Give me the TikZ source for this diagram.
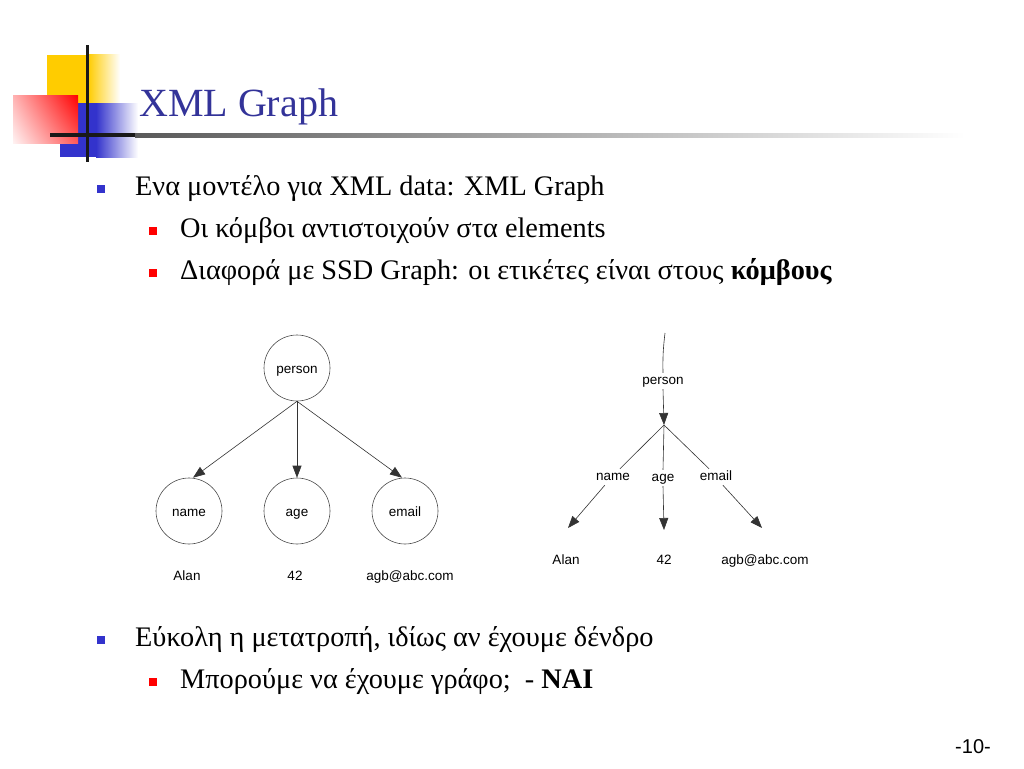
\documentclass[tikz,border=0pt]{standalone}
\usepackage{fontspec}
\setmainfont{Liberation Serif}
\newfontfamily\arialfont{Liberation Sans}
\usetikzlibrary{arrows.meta,calc,shadings}
\definecolor{titleblue}{HTML}{333399}
\definecolor{bulblue}{HTML}{3333CC}
\definecolor{bulred}{HTML}{FF0000}
\definecolor{logoyellow}{HTML}{FFCC00}
\definecolor{logoblue}{HTML}{3333CC}
\definecolor{edgegray}{HTML}{333333}
\tikzset{
  lvlone/.style={anchor=base west, inner sep=0pt, font=\fontsize{28.3}{31}\selectfont},
  lvltwo/.style={anchor=base west, inner sep=0pt, font=\fontsize{28.3}{31}\selectfont},
  bulone/.style={fill=bulblue, minimum size=8pt, inner sep=0pt, draw=none},
  bultwo/.style={fill=bulred, minimum size=8pt, inner sep=0pt, draw=none},
  gcirc/.style={circle, draw=black!70, line width=0.6pt, minimum size=66pt, inner sep=0pt, text height=11pt, text depth=0pt, font=\arialfont\fontsize{13.5}{15}\selectfont},
  glabel/.style={inner sep=2pt, text height=9.5pt, text depth=2.5pt, font=\arialfont\fontsize{13.5}{15}\selectfont},
  garrow/.style={draw=edgegray, line width=0.6pt, -{Triangle[length=12pt,width=9pt]}},
  gline/.style={draw=edgegray, line width=0.6pt},
}
\begin{document}
\begin{tikzpicture}[x=1pt,y=-1pt]
\useasboundingbox (0,0) rectangle (1024,768);
\fill[white] (0,0) rectangle (1024,768);
% logo
\fill[logoyellow] (47,55) rectangle (88,103);
\shade[left color=logoyellow, right color=white] (88,55) rectangle (120,103);
\fill[logoblue] (60,103) rectangle (96,157);
\shade[left color=logoblue, right color=white] (96,103) rectangle (138,157);
\shade[lower left=red!5, upper left=red!30, lower right=red!65, upper right=red] (13,95) rectangle (78,143);
% rule
\fill[black!90] (50,133) rectangle (135,137);
\shade[left color=black!65, right color=white] (135,133) rectangle (965,137);
\fill[black!90] (85.5,45) rectangle (88.5,162);
% title
\node[anchor=base west, inner sep=0pt, text=titleblue, font=\fontsize{40}{44}\selectfont] (title) at (139,116.5) {XML Graph};
% bullets
\node[bulone] (b1) at (101,189) {};
\node[lvlone] (t1) at (135,195) {Ενα μοντέλο για XML data: XML Graph};
\node[bultwo] (b2) at (153,231) {};
\node[lvltwo] (t2) at (180,237) {Οι κόμβοι αντιστοιχούν στα elements};
\node[bultwo] (b3) at (153,273) {};
\node[lvltwo] (t3) at (180,279) {Διαφορά με SSD Graph: οι ετικέτες είναι στους \textbf{κόμβους}};
\node[bulone] (b4) at (101,640) {};
\node[lvlone] (t4) at (135,646) {Εύκολη η μετατροπή, ιδίως αν έχουμε δένδρο};
\node[bultwo] (b5) at (153,682) {};
\node[lvltwo] (t5) at (180,688) {Μπορούμε να έχουμε γράφο;\ \ - \textbf{ΝΑΙ}};
% page number
\node[anchor=base east, inner sep=0pt, font=\arialfont\fontsize{20}{22}\selectfont] (pg) at (991,753) {-10-};
% left graph
\node[gcirc] (lp) at (297,368) {person};
\node[gcirc] (ln) at (189,511) {name};
\node[gcirc] (la) at (297,511) {age};
\node[gcirc] (le) at (405,511) {email};
\draw[garrow] (lp.south) -- ($(ln.north)+(4,0)$);
\draw[garrow] (lp.south) -- (la.north);
\draw[garrow] (lp.south) -- ($(le.north)+(-3,0)$);
\node[glabel] (lv1) at (187,577) {Alan};
\node[glabel] (lv2) at (295,577) {42};
\node[glabel] (lv3) at (410,577) {agb@abc.com};
% right graph
\coordinate (rtop) at (665,333);
\node[glabel] (rp) at (663,381) {person};
\coordinate (rbr) at (664,425);
\node[glabel] (rn) at (613,477) {name};
\node[glabel] (ra) at (663,478) {age};
\node[glabel] (re) at (716,477) {email};
\coordinate (tn) at (568,528);
\coordinate (ta) at (664,530);
\coordinate (te) at (762,528);
\node[glabel] (rv1) at (566,561) {Alan};
\node[glabel] (rv2) at (664,561) {42};
\node[glabel] (rv3) at (765,561) {agb@abc.com};
\draw[gline] (rtop) to[bend right=4] (rp.north);
\draw[garrow] (rp.south) -- (rbr);
\draw[gline] (rbr) -- (rn.50);
\draw[gline] (rbr) -- (ra.north);
\draw[gline] (rbr) -- (re.130);
\draw[garrow] (rn.-135) -- (tn);
\draw[garrow] (ra.south) -- (ta);
\draw[garrow] (re.-50) -- (te);
\end{tikzpicture}
\end{document}
